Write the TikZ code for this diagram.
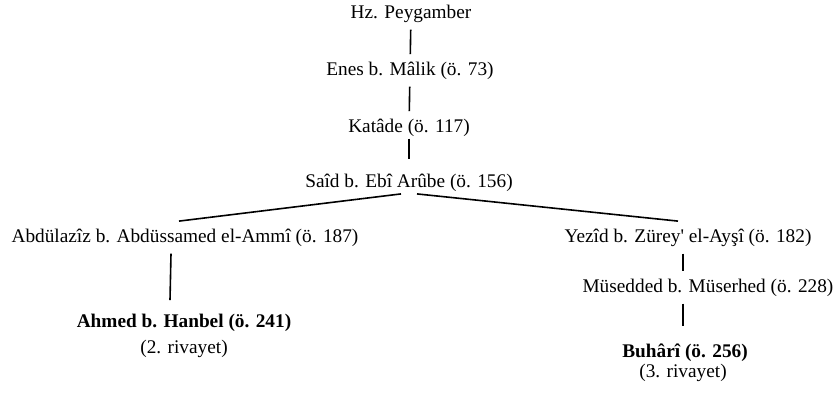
\documentclass[tikz,border=0pt]{standalone}
\usepackage{fontspec}
\setmainfont{Liberation Serif}[Ligatures=TeXOff]
\usepackage{tikz}

\begin{document}
\begin{tikzpicture}[x=0.5pt,y=-0.5pt,line width=0.8pt,
		font=\fontsize{9.65pt}{11.5pt}\selectfont,
		ravi/.style={anchor=base}]
		\useasboundingbox (0,0) rectangle (835,392);

		% The chain from the Prophet down to Said b. Ebi Arube
		\node[ravi] (hz) at (411,18) {Hz. Peygamber};
		\node[ravi] (enes) at (410,75) {Enes b. Mâlik (ö. 73)};
		\node[ravi] (katade) at (409,132) {Katâde (ö. 117)};
		\node[ravi,inner sep=1pt] (said) at (409,187) {Saîd b. Ebî Arûbe (ö. 156)};

		\draw (hz) -- (enes);
		\draw (enes) -- (katade);
		\draw ([yshift=2.5pt]katade.south) -- ([yshift=6pt]said.north);

		% Left branch
		\node[ravi] (abdul) at (185,242) {Abdülazîz b. Abdüssamed el-Ammî (ö. 187)};
		\node[ravi] (ahmed) at (184,327) {\textbf{Ahmed b. Hanbel (ö. 241)}};
		\node[ravi] (riv2) at (184,353) {(2. rivayet)};

		\draw ([xshift=-4pt]said.south) -- ([xshift=-3pt]abdul.north);
		\draw ([xshift=-7pt]abdul.south) -- ([xshift=-7pt,yshift=3pt]ahmed.north); % vertical under Abdulaziz

		% Right branch
		\node[ravi] (yezid) at (688,242) {Yezîd b. Zürey' el-Ayşî (ö. 182)};
		\node[ravi] (mused) at (708,292) {Müsedded b. Müserhed (ö. 228)};
		\node[ravi] (buhari) at (685,357) {\textbf{Buhârî (ö. 256)}};
		\node[ravi] (riv3) at (683,377) {(3. rivayet)};

		\draw ([xshift=4pt]said.south) -- ([xshift=-5pt]yezid.north);
		\draw (yezid.south -| riv3) -- (mused.north -| riv3);
		\draw (mused.south -| riv3) -- ([yshift=5pt]buhari.north -| riv3);
	\end{tikzpicture}
\end{document}
